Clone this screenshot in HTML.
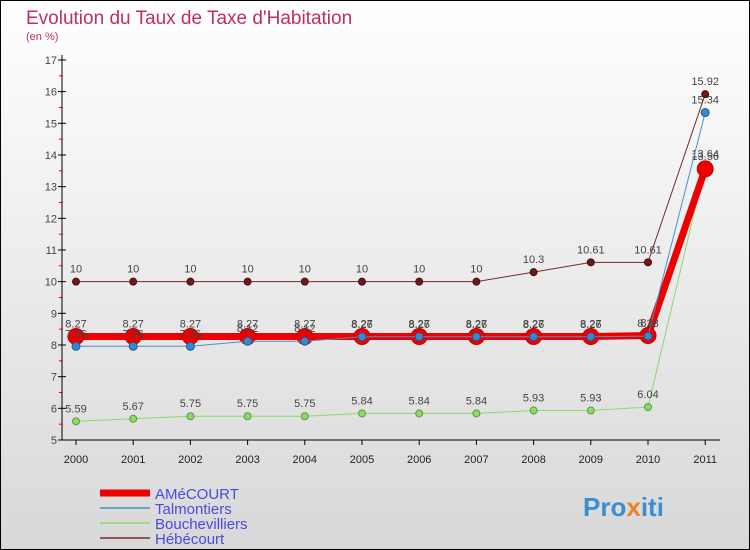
<!DOCTYPE html>
<html><head><meta charset="utf-8"><style>
body{margin:0}
svg{display:block;font-family:"Liberation Sans",sans-serif}
</style></head><body>
<svg id="c" width="750" height="550">
<defs><linearGradient id="bg" x1="0" y1="0" x2="0" y2="1"><stop offset="0" stop-color="#ffffff"/><stop offset="1" stop-color="#d8d8d8"/></linearGradient></defs>
<rect x="0.5" y="0.5" width="749" height="549" fill="url(#bg)" stroke="#000"/>
<text x="26" y="24" font-size="19" fill="#c0305a">Evolution du Taux de Taxe d'Habitation</text>
<text x="26" y="40" font-size="11" fill="#c0305a">(en %)</text>
<g id="axes"></g><g id="series"></g>
<g id="legend"></g>
<text x="583" y="516" font-size="26" font-weight="bold" fill="#3a8fd0">Pro<tspan fill="#f08020">x</tspan>iti</text>
</svg>
<script>
const years=[2000,2001,2002,2003,2004,2005,2006,2007,2008,2009,2010,2011];
const yTicks=[5,6,7,8,9,10,11,12,13,14,15,16,17];
const amecourt=[8.27,8.27,8.27,8.27,8.27,8.27,8.27,8.27,8.27,8.27,8.3,13.56];
const talmontiers=[7.96,7.96,7.96,8.12,8.12,8.26,8.26,8.26,8.26,8.26,8.28,15.34];
const bouchevilliers=[5.59,5.67,5.75,5.75,5.75,5.84,5.84,5.84,5.93,5.93,6.04,13.64];
const hebecourt=[10,10,10,10,10,10,10,10,10.3,10.61,10.61,15.92];
const seriesNames=["AMéCOURT","Talmontiers","Bouchevilliers","Hébécourt"];
const NS="http://www.w3.org/2000/svg";
const X=i=>76+i*57.2, Y=v=>440-(v-5)*31.67;
function mk(t,a,p){const e=document.createElementNS(NS,t);for(const k in a)e.setAttribute(k,a[k]);p.appendChild(e);return e;}
const ax=document.getElementById('axes');
let l=mk('line',{x1:62,y1:55,x2:62,y2:440,stroke:'#000'},ax);


l=mk('line',{x1:62,y1:440,x2:720,y2:440,stroke:'#000'},ax);


yTicks.forEach(v=>{
 mk('line',{x1:58,y1:Y(v),x2:66,y2:Y(v),stroke:'#000'},ax);
 if(v<17)mk('line',{x1:59,y1:Y(v+0.5),x2:63,y2:Y(v+0.5),stroke:'#e00'},ax);
 const t=mk('text',{x:57,y:Y(v)+4,'font-size':11,'text-anchor':'end',fill:'#444'},ax);t.textContent=v;
 
 
});
years.forEach((y,i)=>{
 mk('line',{x1:X(i),y1:440,x2:X(i),y2:445,stroke:'#000'},ax);
 const t=mk('text',{x:X(i),y:463,'font-size':11,'text-anchor':'middle',fill:'#222'},ax);t.textContent=y;
 
 
});
const sg=document.getElementById('series');
function draw(data,color,w,r,fill,stroke,name){
 const g=mk('g',{},sg);
 
 
 mk('polyline',{points:data.map((v,i)=>X(i)+','+Y(v)).join(' '),fill:'none',stroke:color,'stroke-width':w},g);
 data.forEach((v,i)=>{
  const c=mk('circle',{cx:X(i),cy:Y(v),r:r,fill:fill,stroke:stroke,'stroke-width':1},g);
  
  
  const t=mk('text',{x:X(i),y:Y(v)-9,'font-size':11,'text-anchor':'middle',fill:'#444'},g);t.textContent=v;
 });
}
draw(bouchevilliers,'#8fd86a',1,3.5,'#8fd86a','#5a9a40','series-bouchevilliers');
draw(hebecourt,'#7a2a2a',1,3.5,'#6a1a1a','#4a0a0a','series-hebecourt');
draw(amecourt,'#ee0000',7,8,'#ee0000','#c00000','series-amecourt');
draw(talmontiers,'#4a90d0',1,4,'#3a88cc','#1a5a9a','series-talmontiers');
const lg=document.getElementById('legend');
const cols=['#ee0000','#4a90d0','#8fd86a','#7a2a2a'],ws=[7,1.5,1.5,1.5];
seriesNames.forEach((n,i)=>{
 const y=493+i*15;
 const g=mk('g',{},lg);
 
 
 mk('line',{x1:100,y1:y,x2:150,y2:y,stroke:cols[i],'stroke-width':ws[i]},g);
 const t=mk('text',{x:155,y:y+6,'font-size':15,fill:'#4a4adf'},g);t.textContent=n;
});
</script>
</body></html>
